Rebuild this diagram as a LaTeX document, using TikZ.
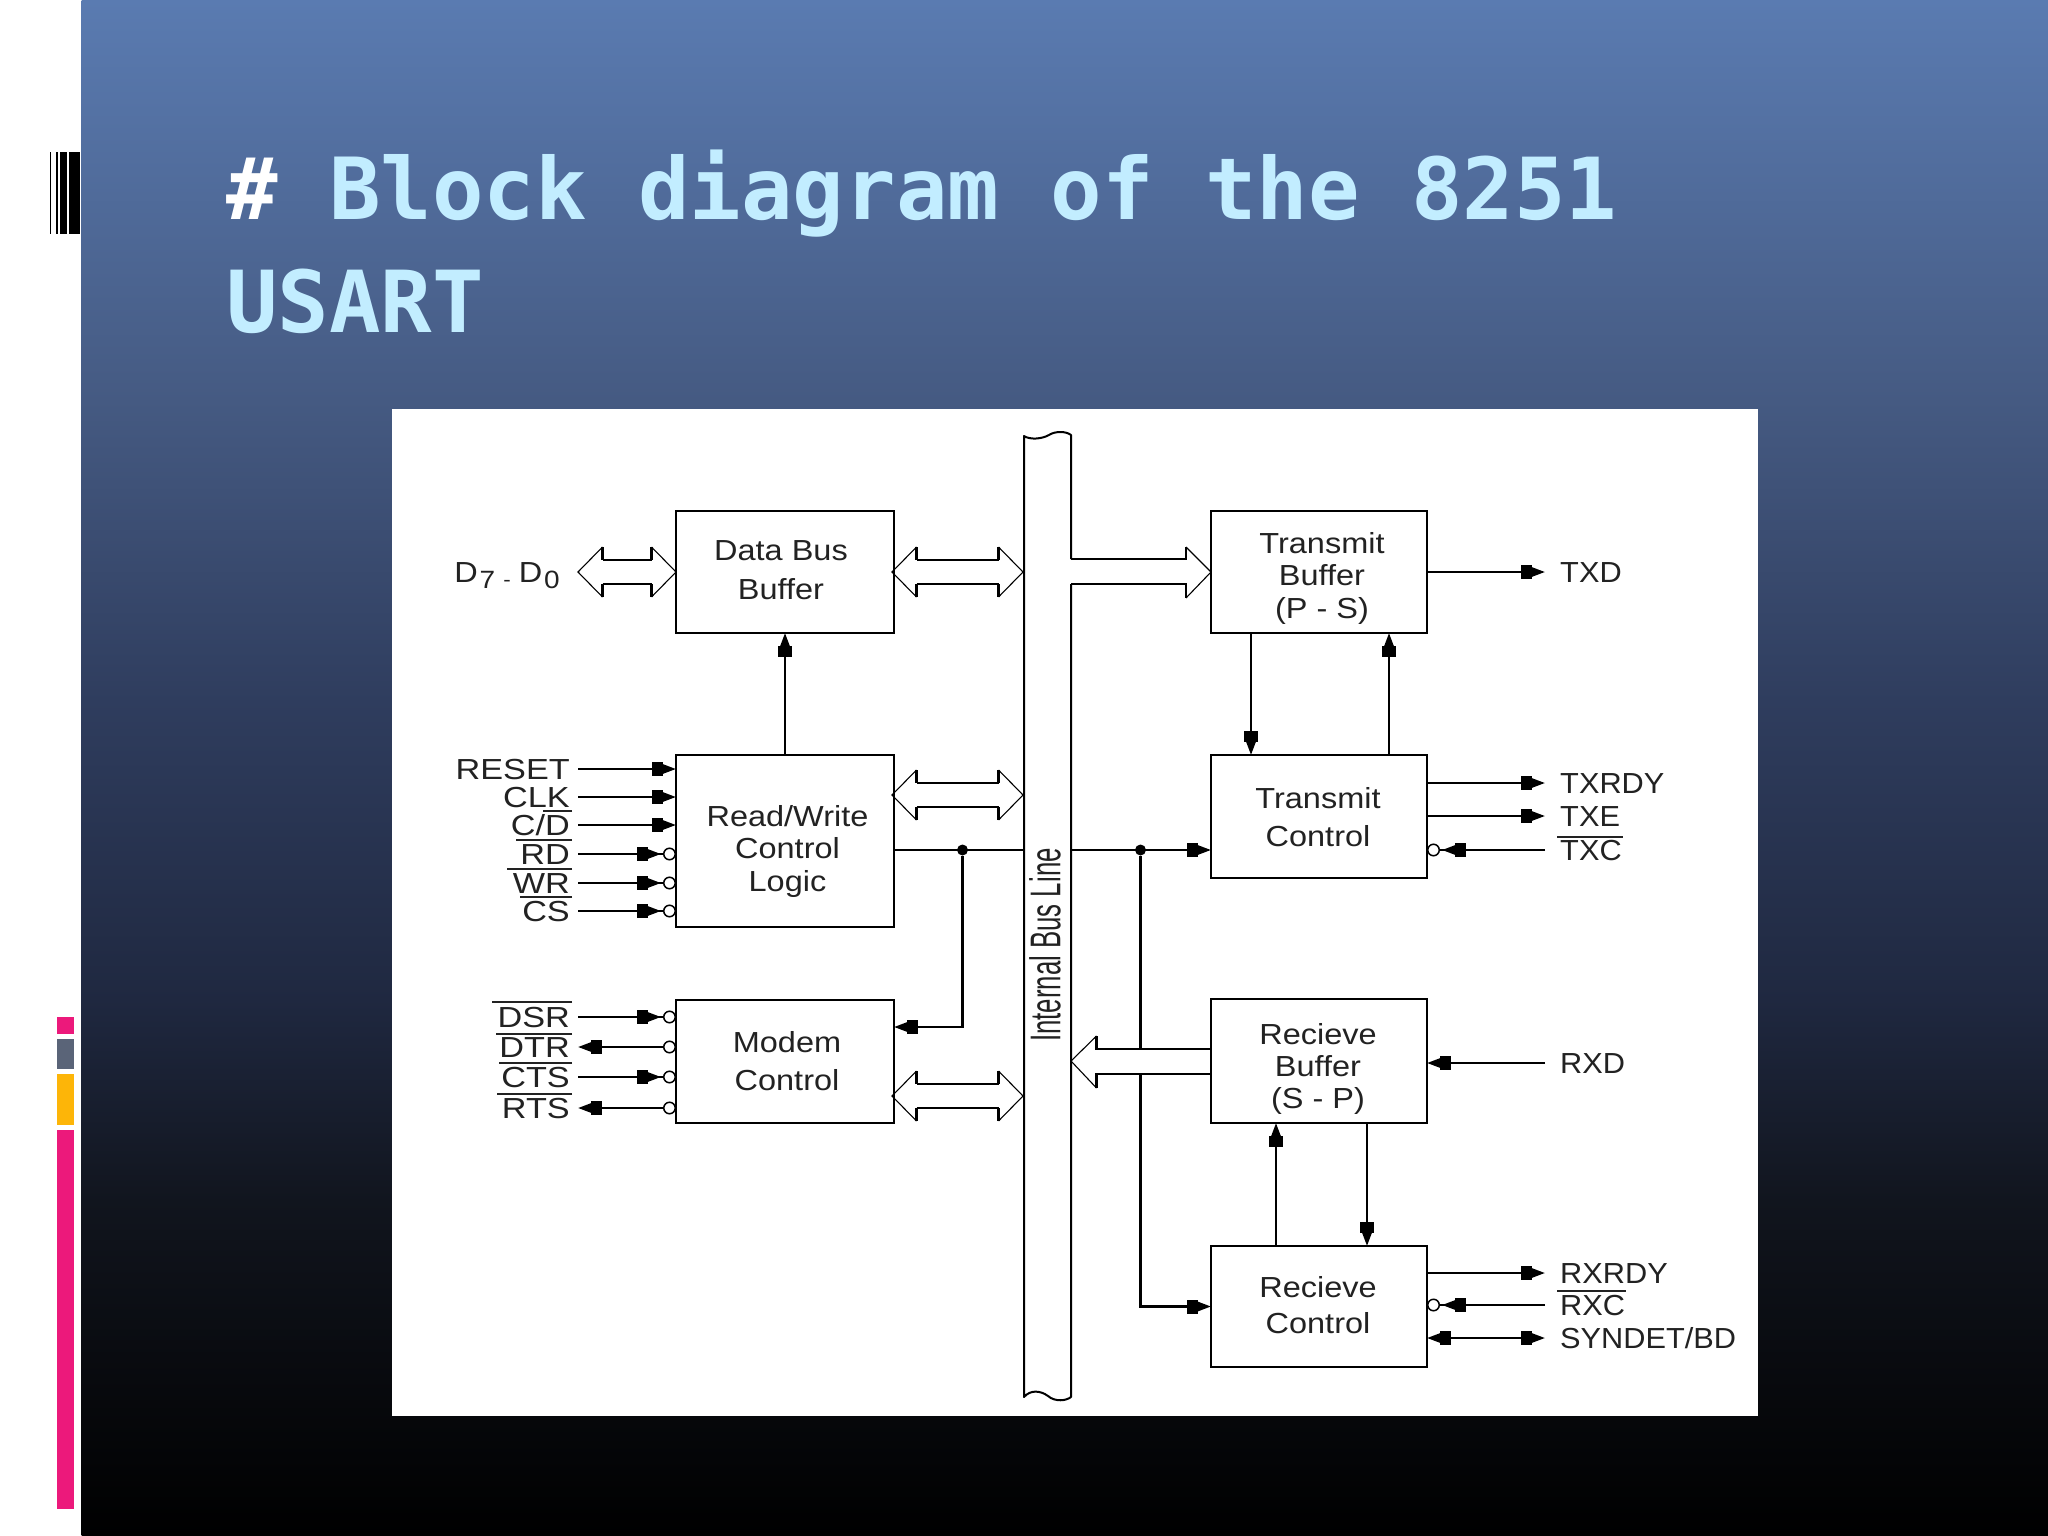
\documentclass[tikz,border=0pt]{standalone}
\usepackage{fontspec}
\usetikzlibrary{arrows.meta,calc}
\newfontfamily\titlefont{DejaVu Sans Mono}
\newfontfamily\dgfont[FakeStretch=1.12]{Liberation Sans}
\newfontfamily\dgL[FakeStretch=1.18]{Liberation Sans}
\newfontfamily\dgR[FakeStretch=1.06]{Liberation Sans}
\newfontfamily\busfont[FakeStretch=0.6]{Liberation Sans}
\definecolor{ink}{HTML}{222222}
\definecolor{ttl}{HTML}{C2EDFF}
\definecolor{gA}{HTML}{5A7BB1}
\definecolor{gB}{HTML}{455A82}
\definecolor{gC}{HTML}{2F3D5E}
\definecolor{gD}{HTML}{1F2840}
\definecolor{gE}{HTML}{11151E}
\definecolor{gF}{HTML}{000000}
\definecolor{pinkbar}{HTML}{EC197B}
\definecolor{greybar}{HTML}{5A6478}
\definecolor{orangebar}{HTML}{FDB508}
\tikzset{
  hd/.tip={Rectangle[length=11pt,width=14pt,sep=0pt] Triangle[length=13pt,width=9pt]},
  bub/.tip={Circle[open,length=13pt,width=13pt,line width=1.5pt]},
  inv/.tip={Rectangle[length=11pt,width=14pt,sep=0pt] Triangle[length=13pt,width=9pt,sep=2pt] bub},
  blk/.style={draw=black,line width=2.2pt,inner sep=0pt,outer sep=0pt,minimum width=218pt,fill=none},
  blktext/.style={font=\dgfont\fontsize{29}{33}\selectfont,text=ink,align=center,inner sep=0pt},
  sigL/.style={font=\dgL\fontsize{29}{33}\selectfont,text=ink,inner sep=0pt,text height=21pt,text depth=0pt,anchor=east},
  sigR/.style={font=\dgR\fontsize{29}{33}\selectfont,text=ink,inner sep=0pt,text height=21pt,text depth=0pt,anchor=west},
  wire/.style={line width=2.2pt,black},
  ovl/.style={line width=1.8pt,ink},
  hshaft/.style={line width=2.1pt,black},
  hdiag/.style={line width=1.1pt,black},
  jdot/.style={circle,fill=black,inner sep=0pt,minimum size=11pt},
  ttxt/.style={font=\titlefont\bfseries\fontsize{85.6}{86}\selectfont,inner sep=0pt,anchor=base west},
}
% hollow double arrow between two tips (left tip, right tip)
\newcommand{\hollowdbl}[2]{%
  \draw[hshaft] ($(#1)+(24.5,-12)$) -- ($(#2)+(-24.5,-12)$);
  \draw[hshaft] ($(#1)+(24.5,12)$) -- ($(#2)+(-24.5,12)$);
  \draw[hshaft] ($(#1)+(24.5,-25)$) -- ($(#1)+(24.5,-12)$);
  \draw[hshaft] ($(#1)+(24.5,25)$) -- ($(#1)+(24.5,12)$);
  \draw[hshaft] ($(#2)+(-24.5,-25)$) -- ($(#2)+(-24.5,-12)$);
  \draw[hshaft] ($(#2)+(-24.5,25)$) -- ($(#2)+(-24.5,12)$);
  \draw[hdiag] ($(#1)+(24.5,-25)$) -- (#1) -- ($(#1)+(24.5,25)$);
  \draw[hdiag] ($(#2)+(-24.5,-25)$) -- (#2) -- ($(#2)+(-24.5,25)$);
}
\begin{document}
\begin{tikzpicture}[x=1pt,y=-1pt]
\useasboundingbox (0,0) rectangle (2048,1536);
\fill[white] (0,0) rectangle (2048,1536);
% background gradient
\shade[top color=gA,bottom color=gB] (81.5,0) rectangle (2048,401);
\shade[top color=gB,bottom color=gC] (81.5,400) rectangle (2048,701);
\shade[top color=gC,bottom color=gD] (81.5,700) rectangle (2048,1001);
\shade[top color=gD,bottom color=gE] (81.5,1000) rectangle (2048,1201);
\shade[top color=gE,bottom color=gF] (81.5,1200) rectangle (2048,1536);
% left decoration
\fill[black] (50,152) rectangle (51.3,234);
\fill[black] (55.8,152) rectangle (58,234);
\fill[black] (60.3,152) rectangle (67,234);
\fill[black] (69.2,152) rectangle (79.5,234);
\fill[pinkbar] (57,1016.5) rectangle (73.7,1034);
\fill[greybar] (57,1038.5) rectangle (73.7,1069);
\fill[orangebar] (57,1074) rectangle (73.7,1125);
\fill[pinkbar] (57,1130) rectangle (73.7,1509);
% title
\node[ttxt,text=white] (t0) at (226,219) {\#};
\node[ttxt,text=ttl] (t1) at (329,219) {Block diagram of the 8251};
\node[ttxt,text=ttl] (t2) at (226,332) {USART};
% image panel
\fill[white] (392,409) rectangle (1758,1416);
% internal bus
\coordinate (busL) at (1024,0);
\coordinate (busR) at (1071,0);
\draw[line width=2pt,black,line join=round]
  (1071,559) -- (1071,435) .. controls (1066,431) and (1055,431) .. (1049,435)
  .. controls (1042,439) and (1030,440) .. (1024,436) -- (1024,1397)
  .. controls (1030,1390) and (1040,1390) .. (1048,1396)
  .. controls (1055,1402) and (1066,1401) .. (1071,1397) -- (1071,584);
\node[font=\busfont\fontsize{43}{43}\selectfont,text=ink,rotate=90,inner sep=0pt] (busT) at (1045,945) {Internal Bus Line};
% blocks
\node[blk,minimum height=122pt] (dbb) at (785,572) {};
\node[blk,minimum height=172pt] (rw) at (785,841) {};
\node[blk,minimum height=123pt] (modem) at (785,1061.5) {};
\node[blk,minimum width=216pt,minimum height=122pt] (tb) at (1319,572) {};
\node[blk,minimum width=216pt,minimum height=123pt] (tc) at (1319,816.5) {};
\node[blk,minimum width=216pt,minimum height=124pt] (rb) at (1319,1061) {};
\node[blk,minimum width=216pt,minimum height=121pt] (rc) at (1319,1306.5) {};
\node[blktext] (dbbT) at (781,570) {Data Bus\\[6pt]Buffer};
\node[blktext] (rwT) at (787.5,851.5) {Read/Write\\[-1pt]Control\\[0pt]Logic};
\node[blktext] (modemT) at (787,1061.5) {Modem\\[5pt]Control};
\node[blktext] (tbT) at (1322,578) {Transmit\\[-1pt]Buffer\\[0pt](P - S)};
\node[blktext] (tcT) at (1318,817) {Transmit\\[5pt]Control};
\node[blktext] (rbT) at (1318,1068.5) {Recieve\\[-1pt]Buffer\\[-1pt](S - P)};
\node[blktext] (rcT) at (1318,1305) {Recieve\\[3pt]Control};
% hollow bus arrows
\coordinate (d7tip) at (578,572);
\hollowdbl{d7tip}{dbb.west}
\coordinate (h1l) at (892,572);
\coordinate (h1r) at (1023,572);
\hollowdbl{h1l}{h1r}
\coordinate (h2l) at (892,795);
\coordinate (h2r) at (1023,795);
\hollowdbl{h2l}{h2r}
\coordinate (h3l) at (892,1096);
\coordinate (h3r) at (1023,1096);
\hollowdbl{h3l}{h3r}
% bus -> transmit buffer (hollow)
\draw[hshaft] (1071,559) -- (1186,559) -- (1186,547);
\draw[hshaft] (1071,584) -- (1186,584) -- (1186,598);
\draw[hdiag] (1186,547) -- (tb.west) -- (1186,598);
% receive buffer -> bus (hollow)
\draw[hshaft] (rb.west |- 0,1049) -- (1096.5,1049) -- (1096.5,1036);
\draw[hshaft] (rb.west |- 0,1074) -- (1096.5,1074) -- (1096.5,1088);
\draw[hdiag] (1096.5,1036) -- (busR |- 0,1061) -- (1096.5,1088);
% junctions
\node[jdot] (j1) at (962.5,850) {};
\node[jdot] (j2) at (1140.5,850) {};
% internal wires
\draw[wire,-hd] (rw.north) -- (dbb.south);
\draw[wire] (rw.east |- j1) -- (busL |- j1);
\draw[wire,-hd] (j1) |- (modem.east |- 0,1027);
\draw[wire,-hd] (busR |- j2) -- (tc.west |- j2);
\draw[wire] (j2) -- (j2 |- 0,1049);
\draw[wire,-hd] (j2 |- 0,1074) |- (rc.west);
\draw[wire,-hd] (1251,0 |- tb.south) -- (1251,0 |- tc.north);
\draw[wire,-hd] (1389,0 |- tc.north) -- (1389,0 |- tb.south);
\draw[wire,-hd] (1276,0 |- rc.north) -- (1276,0 |- rb.south);
\draw[wire,-hd] (1367,0 |- rb.south) -- (1367,0 |- rc.north);
% left labels
\node[font=\dgfont\fontsize{29}{33}\selectfont,text=ink,inner sep=0pt,anchor=base east] (ld) at (560,582) {D\hspace{2pt}\raisebox{-6pt}{\fontsize{25}{25}\selectfont 7}\hspace{8pt}\raisebox{-4pt}{\fontsize{20}{20}\selectfont -}\hspace{8pt}D\hspace{2pt}\raisebox{-6pt}{\fontsize{25}{25}\selectfont 0}};
\node[sigL] (lreset) at (570,769) {RESET};
\node[sigL] (lclk) at (570,797) {CLK};
\node[sigL] (lcd) at (570,825) {C/D};
\node[sigL] (lrd) at (570,854) {RD};
\node[sigL] (lwr) at (570,883) {WR};
\node[sigL] (lcs) at (570,911) {CS};
\node[sigL] (ldsr) at (570,1017) {DSR};
\node[sigL] (ldtr) at (570,1047) {DTR};
\node[sigL] (lcts) at (570,1077) {CTS};
\node[sigL] (lrts) at (570,1108) {RTS};
\draw[ovl] ($(lcd.north east)+(2,-3.5)$) -- ++(-29,0);
\draw[ovl] ($(lrd.north east)+(2,-3.5)$) -- ++(-56,0);
\draw[ovl] ($(lwr.north east)+(2,-3.5)$) -- ++(-65,0);
\draw[ovl] ($(lcs.north east)+(2,-3.5)$) -- ++(-52,0);
\draw[ovl] ($(ldsr.north east)+(2,-4.5)$) -- ++(-80,0);
\draw[ovl] ($(ldtr.north east)+(2,-2.5)$) -- ++(-76,0);
\draw[ovl] ($(lcts.north east)+(2,-3.5)$) -- ++(-73,0);
\draw[ovl] ($(lrts.north east)+(2,-3.5)$) -- ++(-75,0);
% left signals
\draw[wire,-hd] ($(lreset.east)+(8,0)$) -- (rw.west |- lreset.east);
\draw[wire,-hd] ($(lclk.east)+(8,0)$) -- (rw.west |- lclk.east);
\draw[wire,-hd] ($(lcd.east)+(8,0)$) -- (rw.west |- lcd.east);
\draw[wire,-inv] ($(lrd.east)+(8,0)$) -- (rw.west |- lrd.east);
\draw[wire,-inv] ($(lwr.east)+(8,0)$) -- (rw.west |- lwr.east);
\draw[wire,-inv] ($(lcs.east)+(8,0)$) -- (rw.west |- lcs.east);
\draw[wire,-inv] ($(ldsr.east)+(8,0)$) -- (modem.west |- ldsr.east);
\draw[wire,bub-hd] (modem.west |- ldtr.east) -- ($(ldtr.east)+(8,0)$);
\draw[wire,-inv] ($(lcts.east)+(8,0)$) -- (modem.west |- lcts.east);
\draw[wire,bub-hd] (modem.west |- lrts.east) -- ($(lrts.east)+(8,0)$);
% right labels
\node[sigR] (ltxd) at (1560,572) {TXD};
\node[sigR] (ltxrdy) at (1560,783) {TXRDY};
\node[sigR] (ltxe) at (1560,816) {TXE};
\node[sigR] (ltxc) at (1560,850) {TXC};
\node[sigR] (lrxd) at (1560,1063) {RXD};
\node[sigR] (lrxrdy) at (1560,1273) {RXRDY};
\node[sigR] (lrxc) at (1560,1305) {RXC};
\node[sigR] (lsyn) at (1560,1338) {SYNDET/BD};
\draw[ovl] ($(ltxc.north west)+(-3,-2)$) -- ++(66,0);
\draw[ovl] ($(lrxc.north west)+(-3,-3)$) -- ++(69,0);
% right signals
\draw[wire,-hd] (tb.east |- ltxd.west) -- ($(ltxd.west)+(-15,0)$);
\draw[wire,-hd] (tc.east |- ltxrdy.west) -- ($(ltxrdy.west)+(-15,0)$);
\draw[wire,-hd] (tc.east |- ltxe.west) -- ($(ltxe.west)+(-15,0)$);
\draw[wire,-inv] ($(ltxc.west)+(-15,0)$) -- (tc.east |- ltxc.west);
\draw[wire,-hd] ($(lrxd.west)+(-15,0)$) -- (rb.east |- lrxd.west);
\draw[wire,-hd] (rc.east |- lrxrdy.west) -- ($(lrxrdy.west)+(-15,0)$);
\draw[wire,-inv] ($(lrxc.west)+(-15,0)$) -- (rc.east |- lrxc.west);
\draw[wire,hd-hd] (rc.east |- lsyn.west) -- ($(lsyn.west)+(-15,0)$);
\end{tikzpicture}
\end{document}
